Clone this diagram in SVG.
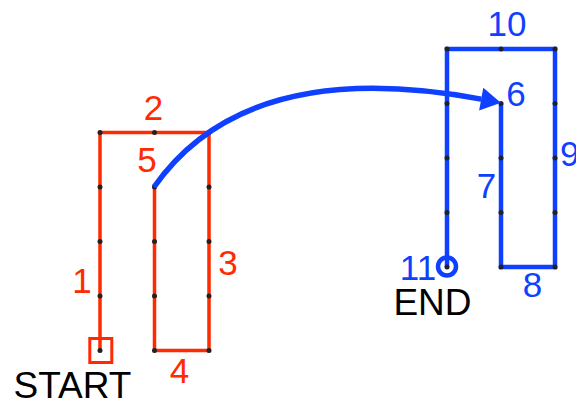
<svg xmlns="http://www.w3.org/2000/svg" width="576" height="406" viewBox="0 0 576 406">
<style>
.red{fill:none;stroke:#ff2a00;stroke-width:3.5;stroke-linejoin:miter}
.blue{fill:none;stroke:#1040ff;stroke-width:4.5;stroke-linejoin:miter}
.dot{fill:#222}
.lr{font-family:"Liberation Sans",Arial,sans-serif;font-size:35px;fill:#ff2a00;text-anchor:middle}
.lb{font-family:"Liberation Sans",Arial,sans-serif;font-size:35px;fill:#1040ff;text-anchor:middle}
.lk{font-family:"Liberation Sans",Arial,sans-serif;font-size:37px;fill:#000;text-anchor:middle}
</style>
<defs>
<marker id="ah" markerUnits="userSpaceOnUse" markerWidth="22" markerHeight="24" refX="0" refY="11.5" orient="auto" overflow="visible">
<path d="M0,0 L20,11.5 L0,23 z" fill="#1040ff"/>
</marker>
</defs>
<g id="left-path">
<path class="red" d="M100,350.5 V132.5 H209 V350.5 H154.5 V187"/>
</g>
<g id="start">
<rect x="89.8" y="338.5" width="22" height="24" fill="none" stroke="#ff2a00" stroke-width="3"/>
<text class="lk" x="72.5" y="398">START</text>
</g>
<g id="right-path">
<path class="blue" d="M501,103.5 V267 H555 V49 H447 V267"/>
</g>
<g id="end">
<circle cx="447" cy="266.5" r="9" fill="none" stroke="#1040ff" stroke-width="4.5"/>
<text class="lk" x="432.5" y="315">END</text>
</g>
<g id="dots">
<g class="dot">
<circle cx="100" cy="132.5" r="2.5"/><circle cx="154.5" cy="132.5" r="2.5"/><circle cx="209" cy="132.5" r="2.5"/>
<circle cx="100" cy="187" r="2.5"/><circle cx="154.5" cy="187" r="2.5"/><circle cx="209" cy="187" r="2.5"/>
<circle cx="100" cy="241.5" r="2.5"/><circle cx="154.5" cy="241.5" r="2.5"/><circle cx="209" cy="241.5" r="2.5"/>
<circle cx="100" cy="296" r="2.5"/><circle cx="154.5" cy="296" r="2.5"/><circle cx="209" cy="296" r="2.5"/>
<circle cx="100" cy="350.5" r="2.5"/><circle cx="154.5" cy="350.5" r="2.5"/><circle cx="209" cy="350.5" r="2.5"/>
<circle cx="447" cy="49" r="2.5"/><circle cx="501" cy="49" r="2.5"/><circle cx="555" cy="49" r="2.5"/>
<circle cx="447" cy="103.5" r="2.5"/><circle cx="501" cy="103.5" r="2.5"/><circle cx="555" cy="103.5" r="2.5"/>
<circle cx="447" cy="158" r="2.5"/><circle cx="501" cy="158" r="2.5"/><circle cx="555" cy="158" r="2.5"/>
<circle cx="447" cy="212.5" r="2.5"/><circle cx="501" cy="212.5" r="2.5"/><circle cx="555" cy="212.5" r="2.5"/>
<circle cx="447" cy="267" r="2.5"/><circle cx="501" cy="267" r="2.5"/><circle cx="555" cy="267" r="2.5"/>
</g>
</g>
<g id="connectors">
<path d="M154,187 Q246.2,55.5 481.2,99.1" fill="none" stroke="#1040ff" stroke-width="5.5" marker-end="url(#ah)"/>
</g>
<g id="labels">
<text class="lr" x="82" y="293">1</text>
<text class="lr" x="153.5" y="120">2</text>
<text class="lr" x="228" y="275">3</text>
<text class="lr" x="179.5" y="383">4</text>
<text class="lr" x="147" y="172">5</text>
<text class="lb" x="516" y="106">6</text>
<text class="lb" x="486.5" y="198">7</text>
<text class="lb" x="532.5" y="296.5">8</text>
<text class="lb" x="560" y="166" style="text-anchor:start">9</text>
<text class="lb" x="507" y="36">10</text>
<text class="lb" x="418" y="280">11</text>
</g>
</svg>
